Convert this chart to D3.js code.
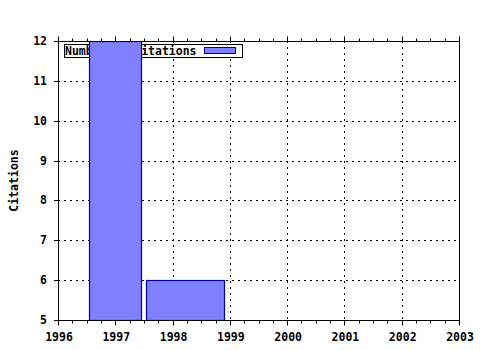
<!DOCTYPE html>
<html>
<head>
<meta charset="utf-8">
<script src="https://cdn.jsdelivr.net/npm/d3@7"></script>
<style>
  body { margin: 0; background: #fff; }
  svg text { font-family: "DejaVu Sans Mono", monospace; font-weight: bold; font-size: 11.5px; fill: #000; }
</style>
</head>
<body>
<svg width="480" height="350"></svg>
<script>
// bars: start year, end year, number of citations
var barStart = [1996.54, 1997.54];
var barEnd = [1997.44, 1998.91];
var citations = [12, 6];
var xTicks = [1996, 1997, 1998, 1999, 2000, 2001, 2002, 2003];
var yTicks = [5, 6, 7, 8, 9, 10, 11, 12];
var legendLabel = "Number of citations";

var svg = d3.select("svg"),
    margin = {top: 41, right: 21, bottom: 30, left: 58},
    width = +svg.attr("width") - margin.left - margin.right,
    height = +svg.attr("height") - margin.top - margin.bottom,
    g = svg.append("g").attr("transform", "translate(" + margin.left + "," + margin.top + ")");

var x = d3.scaleLinear().domain([1996, 2003]).range([0, width]);
var y = d3.scaleLinear().domain([5, 12]).range([height, 0]);

svg.append("defs").append("clipPath").attr("id", "clip")
  .append("rect").attr("width", width).attr("height", height);

// grid
g.append("g").selectAll("line")
  .data(xTicks.slice(1, -1))
  .enter().append("line")
    .attr("x1", function(d) { return Math.round(x(d)) + 0.5; })
    .attr("x2", function(d) { return Math.round(x(d)) + 0.5; })
    .attr("y1", 0).attr("y2", height)
    .attr("stroke", "#000").attr("stroke-dasharray", "2,4");

g.append("g").selectAll("line")
  .data(yTicks.slice(1, -1))
  .enter().append("line")
    .attr("y1", function(d) { return Math.round(y(d)) + 0.5; })
    .attr("y2", function(d) { return Math.round(y(d)) + 0.5; })
    .attr("x1", 0).attr("x2", width)
    .attr("stroke", "#000").attr("stroke-dasharray", "2,4");

// legend
var legend = g.append("g").attr("transform", "translate(6,3)");
legend.append("rect")
  .attr("x", 0.5).attr("y", 0.5).attr("width", 178).attr("height", 13)
  .attr("fill", "#fff").attr("stroke", "#000");
legend.append("text")
  .attr("x", 1).attr("y", 10.5)
  .text(legendLabel);
legend.append("rect")
  .attr("x", 140.5).attr("y", 3.5).attr("width", 31).attr("height", 6)
  .attr("fill", "#8080ff").attr("stroke", "#0000a0");

// bars
g.append("g").attr("clip-path", "url(#clip)")
  .selectAll("rect")
  .data(citations)
  .enter().append("rect")
    .attr("x", function(d, i) { return Math.round(x(barStart[i])) + 0.5; })
    .attr("y", function(d) { return Math.round(y(d)) + 0.5; })
    .attr("width", function(d, i) { return Math.round(x(barEnd[i]) - x(barStart[i])); })
    .attr("height", function(d) { return Math.round(height - y(d)); })
    .attr("fill", "#8080ff")
    .attr("stroke", "#0000a0")
    .attr("stroke-width", 1.2);

// border
g.append("rect")
  .attr("x", 0.5).attr("y", 0.5).attr("width", width).attr("height", height)
  .attr("fill", "none").attr("stroke", "#000");

// x axis, bottom and top with minor ticks
var minor = d3.range(1996, 2003.01, 0.25);
[height, 0].forEach(function(yy) {
  var dir = yy === 0 ? -1 : 1;
  g.append("g").selectAll("line")
    .data(minor)
    .enter().append("line")
      .attr("x1", function(d) { return Math.round(x(d)) + 0.5; })
      .attr("x2", function(d) { return Math.round(x(d)) + 0.5; })
      .attr("y1", yy + 0.5)
      .attr("y2", function(d) { return yy + 0.5 + dir * (Number.isInteger(d) ? 5 : 3); })
      .attr("stroke", "#000");
});

g.append("g").selectAll("text")
  .data(xTicks)
  .enter().append("text")
    .attr("x", function(d) { return x(d) + 1; })
    .attr("y", height + 21)
    .attr("text-anchor", "middle")
    .text(function(d) { return d; });

// y axis
g.append("g").selectAll("line")
  .data(yTicks)
  .enter().append("line")
    .attr("x1", -4).attr("x2", 0)
    .attr("y1", function(d) { return Math.round(y(d)) + 0.5; })
    .attr("y2", function(d) { return Math.round(y(d)) + 0.5; })
    .attr("stroke", "#000");

g.append("g").selectAll("text")
  .data(yTicks)
  .enter().append("text")
    .attr("x", -11)
    .attr("y", function(d) { return y(d) + 4; })
    .attr("text-anchor", "end")
    .text(function(d) { return d; });

svg.append("text")
  .attr("transform", "translate(18," + (margin.top + height / 2) + ") rotate(-90)")
  .attr("text-anchor", "middle")
  .text("Citations");
</script>
</body>
</html>
